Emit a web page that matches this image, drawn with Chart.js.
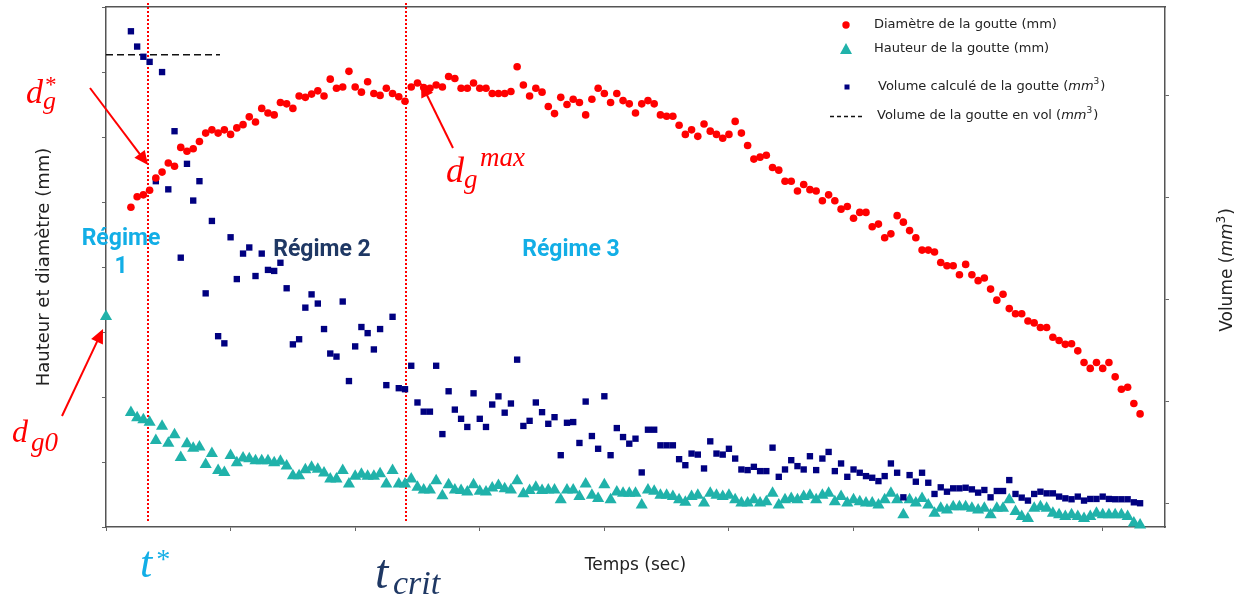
<!DOCTYPE html>
<html>
<head>
<meta charset="utf-8">
<script src="https://cdn.jsdelivr.net/npm/chart.js@4.4.1/dist/chart.umd.min.js"></script>
<style>
  html, body { margin: 0; padding: 0; background: #fff; }
</style>
</head>
<body>
<canvas id="myChart" width="1249" height="596"></canvas>
<script>
// temps (s) - t=0 : goutte au contact
var temps = [0, 4, 5, 6, 7, 8, 9, 10, 11, 12, 13, 14, 15, 16, 17, 18, 19, 20, 21, 22, 23, 24, 25, 26, 27, 28, 29, 30,
  31, 32, 33, 34, 35, 36, 37, 38, 39, 40, 41, 42, 43, 44, 45, 46, 47, 48, 49, 50, 51, 52, 53, 54, 55, 56, 57, 58, 59, 60,
  61, 62, 63, 64, 65, 66, 67, 68, 69, 70, 71, 72, 73, 74, 75, 76, 77, 78, 79, 80, 81, 82, 83, 84, 85, 86, 87, 88, 89, 90,
  91, 92, 93, 94, 95, 96, 97, 98, 99, 100, 101, 102, 103, 104, 105, 106, 107, 108, 109, 110, 111, 112, 113, 114, 115, 116,
  117, 118, 119, 120, 121, 122, 123, 124, 125, 126, 127, 128, 129, 130, 131, 132, 133, 134, 135, 136, 137, 138, 139, 140,
  141, 142, 143, 144, 145, 146, 147, 148, 149, 150, 151, 152, 153, 154, 155, 156, 157, 158, 159, 160, 161, 162, 163, 164,
  165, 166];

// diametre de la goutte (mm)
var diametre = [null,
  4.92, 5.08, 5.11, 5.18, 5.37, 5.46, 5.60, 5.55, 5.84, 5.78,
  5.82, 5.93, 6.06, 6.11, 6.06, 6.11, 6.04, 6.14, 6.19, 6.31,
  6.23, 6.44, 6.37, 6.34, 6.53, 6.51, 6.44, 6.63, 6.61, 6.66,
  6.71, 6.63, 6.89, 6.75, 6.77, 7.01, 6.77, 6.69, 6.85, 6.67,
  6.64, 6.75, 6.67, 6.62, 6.55, 6.77, 6.83, 6.76, 6.75, 6.80,
  6.77, 6.93, 6.90, 6.75, 6.75, 6.83, 6.75, 6.75, 6.67, 6.67,
  6.67, 6.70, 7.08, 6.80, 6.63, 6.75, 6.69, 6.47, 6.36, 6.61,
  6.50, 6.58, 6.53, 6.34, 6.58, 6.75, 6.67, 6.53, 6.67, 6.56,
  6.51, 6.37, 6.51, 6.56, 6.51, 6.34, 6.32, 6.32, 6.18, 6.04,
  6.11, 6.01, 6.20, 6.09, 6.04, 5.98, 6.04, 6.24, 6.06, 5.87,
  5.66, 5.69, 5.72, 5.53, 5.49, 5.32, 5.32, 5.17, 5.27, 5.19,
  5.17, 5.02, 5.11, 5.02, 4.89, 4.93, 4.75, 4.84, 4.84, 4.62,
  4.66, 4.45, 4.51, 4.79, 4.69, 4.56, 4.45, 4.26, 4.26, 4.23,
  4.07, 4.02, 4.02, 3.88, 4.04, 3.88, 3.79, 3.83, 3.66, 3.49,
  3.58, 3.36, 3.28, 3.28, 3.17, 3.14, 3.07, 3.07, 2.92, 2.87,
  2.81, 2.82, 2.71, 2.53, 2.44, 2.53, 2.44, 2.53, 2.31, 2.12,
  2.15, 1.90, 1.74];

// hauteur de la goutte (mm)
var hauteur = [3.24,
  1.76, 1.68, 1.65, 1.61, 1.33, 1.55, 1.29, 1.42, 1.07, 1.28,
  1.21, 1.23, 0.96, 1.13, 0.87, 0.84, 1.10, 0.99, 1.06, 1.05,
  1.02, 1.02, 1.02, 0.99, 1.01, 0.94, 0.79, 0.79, 0.88, 0.92,
  0.89, 0.83, 0.74, 0.74, 0.87, 0.66, 0.78, 0.81, 0.78, 0.78,
  0.82, 0.66, 0.87, 0.66, 0.66, 0.74, 0.61, 0.57, 0.57, 0.71,
  0.48, 0.65, 0.57, 0.56, 0.54, 0.65, 0.55, 0.54, 0.60, 0.64,
  0.59, 0.57, 0.71, 0.51, 0.56, 0.61, 0.56, 0.57, 0.57, 0.42,
  0.57, 0.57, 0.47, 0.66, 0.49, 0.44, 0.65, 0.42, 0.54, 0.52,
  0.52, 0.52, 0.34, 0.57, 0.55, 0.49, 0.49, 0.47, 0.42, 0.38,
  0.47, 0.49, 0.37, 0.52, 0.49, 0.47, 0.49, 0.42, 0.37, 0.37,
  0.42, 0.37, 0.39, 0.52, 0.34, 0.42, 0.44, 0.42, 0.47, 0.49,
  0.42, 0.49, 0.52, 0.39, 0.47, 0.37, 0.42, 0.39, 0.37, 0.37,
  0.34, 0.42, 0.52, 0.42, 0.19, 0.42, 0.37, 0.44, 0.34, 0.21,
  0.29, 0.26, 0.31, 0.31, 0.31, 0.29, 0.26, 0.29, 0.19, 0.29,
  0.29, 0.42, 0.24, 0.16, 0.13, 0.29, 0.31, 0.29, 0.21, 0.19,
  0.16, 0.19, 0.16, 0.13, 0.16, 0.21, 0.19, 0.19, 0.19, 0.19,
  0.16, 0.06, 0.03];

// volume calcule de la goutte (mm3)
var volume = [null,
  46.3, 44.8, 43.8, 43.3, 31.6, 42.3, 30.8, 36.5, 24.1, 33.3,
  29.7, 31.6, 20.6, 27.7, 16.4, 15.7, 26.1, 22.0, 24.5, 25.1,
  22.3, 24.5, 22.9, 22.8, 23.6, 21.1, 15.6, 16.1, 19.2, 20.5,
  19.6, 17.1, 14.7, 14.4, 19.8, 12.0, 15.4, 17.3, 16.7, 15.1,
  17.1, 11.6, 18.3, 11.3, 11.2, 13.5, 9.9, 9.0, 9.0, 13.5,
  6.8, 11.0, 9.2, 8.3, 7.5, 10.8, 8.3, 7.5, 9.7, 10.5,
  8.9, 9.8, 14.1, 7.6, 8.1, 9.9, 8.95, 7.81, 8.46, 4.73,
  7.91, 7.98, 5.93, 9.99, 6.61, 5.36, 10.51, 4.73, 7.39, 6.51,
  5.86, 6.35, 3.04, 7.23, 7.23, 5.70, 5.70, 5.70, 4.34, 3.75,
  4.89, 4.79, 3.43, 6.09, 4.89, 4.79, 5.36, 4.40, 3.33, 3.27,
  3.59, 3.17, 3.17, 5.47, 2.61, 3.33, 4.24, 3.66, 3.33, 4.63,
  3.27, 4.40, 5.05, 3.17, 3.92, 2.61, 3.33, 3.01, 2.68, 2.52,
  2.19, 2.68, 3.92, 3.01, 0.60, 2.78, 2.13, 3.01, 2.03, 0.93,
  1.58, 1.15, 1.48, 1.48, 1.54, 1.38, 1.06, 1.32, 0.60, 1.22,
  1.22, 2.29, 0.93, 0.57, 0.28, 0.93, 1.15, 0.99, 0.99, 0.67,
  0.50, 0.41, 0.67, 0.28, 0.44, 0.44, 0.67, 0.44, 0.41, 0.41,
  0.41, 0.11, 0.02];

// volume de la goutte en vol (mm3)
var tempsVol = [0, 18.3];
var volumeEnVol = [44.0, 44.0];

// reperes t* et t_crit
var reperesTemps = [6.8, 48.2];

// graduations (sans etiquettes)
var xTicks = [0, 20, 40, 60, 80, 100, 120, 140, 160];
var yTicks = [0, 1, 2, 3, 4, 5, 6, 7, 8];
var volTicks = [0, 10, 20, 30, 40];

var ROUGE = '#ff0000', TURQUOISE = '#20b2aa', MARINE = '#000080';
var CYAN = '#12aee6', BLEU_FONCE = '#1f3864';

function points(ys, xs) {
  var out = [];
  ys.forEach(function (v, k) { if (v !== null) out.push({x: xs[k], y: v}); });
  return out;
}

function fleche(ctx, x1, y1, x2, y2) {
  var a = Math.atan2(y2 - y1, x2 - x1), L = 14, W = 6.5;
  ctx.beginPath();
  ctx.moveTo(x1, y1);
  ctx.lineTo(x2 - (L - 2) * Math.cos(a), y2 - (L - 2) * Math.sin(a));
  ctx.stroke();
  ctx.beginPath();
  ctx.moveTo(x2, y2);
  ctx.lineTo(x2 - L * Math.cos(a) + W * Math.sin(a), y2 - L * Math.sin(a) - W * Math.cos(a));
  ctx.lineTo(x2 - L * Math.cos(a) - W * Math.sin(a), y2 - L * Math.sin(a) + W * Math.cos(a));
  ctx.closePath();
  ctx.fill();
}

function maths(ctx, m) {
  ctx.fillStyle = m.color;
  ctx.textAlign = 'left';
  ctx.textBaseline = 'alphabetic';
  ctx.font = 'italic ' + m.size + 'px "Liberation Serif"';
  ctx.fillText(m.base, m.x, m.y);
  if (m.sub) {
    ctx.font = 'italic ' + m.subSize + 'px "Liberation Serif"';
    ctx.fillText(m.sub, m.subX, m.subY);
  }
  if (m.sup) {
    ctx.font = 'italic ' + m.supSize + 'px "Liberation Serif"';
    ctx.fillText(m.sup, m.supX, m.supY);
  }
}

// texte avec "(mm3)" : mm en italique, 3 en exposant
function texteMm3(ctx, avant, x, y, taille, mesurer) {
  var f = taille + 'px "DejaVu Sans"';
  var fi = 'oblique ' + taille + 'px "DejaVu Sans"';
  var fe = Math.round(taille * 0.7) + 'px "DejaVu Sans"';
  var morceaux = [[avant + '(', f, 0], ['mm', fi, 0], ['3', fe, -taille * 0.38], [')', f, 0]];
  var w = 0;
  morceaux.forEach(function (p) { ctx.font = p[1]; w += ctx.measureText(p[0]).width + (p[0] === '3' ? 1 : 0); });
  if (mesurer) return w;
  var cx = x;
  morceaux.forEach(function (p) {
    ctx.font = p[1];
    ctx.fillText(p[0], cx, y + p[2]);
    cx += ctx.measureText(p[0]).width + (p[0] === '3' ? 1 : 0);
  });
  return w;
}

var decor = {
  id: 'decor',
  beforeDatasetsDraw: function (chart) {
    var ctx = chart.ctx, sx = chart.scales.x, area = chart.chartArea;
    ctx.save();
    ctx.strokeStyle = ROUGE;
    ctx.lineWidth = 2;
    ctx.setLineDash([2, 2]);
    reperesTemps.forEach(function (t) {
      var px = Math.round(sx.getPixelForValue(t));
      ctx.beginPath();
      ctx.moveTo(px, area.top - 4);
      ctx.lineTo(px, area.bottom - 6);
      ctx.stroke();
    });
    ctx.restore();
  },
  afterDraw: function (chart) {
    var ctx = chart.ctx;
    ctx.save();

    // legende
    ctx.fillStyle = ROUGE;
    ctx.beginPath(); ctx.arc(846, 25, 3.7, 0, Math.PI * 2); ctx.fill();
    ctx.fillStyle = TURQUOISE;
    ctx.beginPath(); ctx.moveTo(846, 43); ctx.lineTo(852, 54); ctx.lineTo(840, 54); ctx.closePath(); ctx.fill();
    ctx.fillStyle = MARINE;
    ctx.fillRect(844.5, 84.5, 5, 5);
    ctx.strokeStyle = '#111'; ctx.lineWidth = 1.3; ctx.setLineDash([4, 3]);
    ctx.beginPath(); ctx.moveTo(830, 116.5); ctx.lineTo(863, 116.5); ctx.stroke();
    ctx.setLineDash([]);

    ctx.fillStyle = '#222';
    ctx.textAlign = 'left';
    ctx.textBaseline = 'middle';
    ctx.font = '13px "DejaVu Sans"';
    ctx.fillText('Diamètre de la goutte (mm)', 874, 25);
    ctx.fillText('Hauteur de la goutte (mm)', 874, 49);
    texteMm3(ctx, 'Volume calculé de la goutte ', 878, 87, 13);
    texteMm3(ctx, 'Volume de la goutte en vol ', 877, 116, 13);

    // titre de l'axe de droite
    ctx.save();
    ctx.translate(1228, 270);
    ctx.rotate(-Math.PI / 2);
    ctx.fillStyle = '#222';
    var w = texteMm3(ctx, 'Volume ', 0, 0, 17, true);
    texteMm3(ctx, 'Volume ', -w / 2, 0, 17);
    ctx.restore();

    // regimes
    ctx.textAlign = 'center';
    ctx.textBaseline = 'alphabetic';
    ctx.font = 'bold 23px Roboto';
    ctx.fillStyle = CYAN;
    ctx.fillText('Régime', 121, 245);
    ctx.fillText('1', 121, 273);
    ctx.fillText('Régime 3', 571, 256);
    ctx.fillStyle = BLEU_FONCE;
    ctx.fillText('Régime 2', 322, 256);

    // fleches
    ctx.strokeStyle = ROUGE;
    ctx.fillStyle = ROUGE;
    ctx.lineWidth = 2;
    fleche(ctx, 90, 88, 148, 165);
    fleche(ctx, 453, 148, 421, 83);
    fleche(ctx, 62, 416, 103, 329);

    // notations
    maths(ctx, {base: 'd', x: 26, y: 103, size: 34, color: ROUGE,
      sub: 'g', subX: 43, subY: 109, subSize: 26, sup: '*', supX: 44, supY: 92, supSize: 23});
    maths(ctx, {base: 'd', x: 446, y: 182, size: 36, color: ROUGE,
      sub: 'g', subX: 464, subY: 188, subSize: 27, sup: 'max', supX: 480, supY: 166, supSize: 27});
    maths(ctx, {base: 'd', x: 12, y: 442, size: 32, color: ROUGE,
      sub: 'g0', subX: 31, subY: 451, subSize: 27});
    maths(ctx, {base: 't', x: 140, y: 577, size: 44, color: CYAN,
      sup: '*', supX: 155, supY: 568, supSize: 28});
    maths(ctx, {base: 't', x: 375, y: 588, size: 48, color: BLEU_FONCE,
      sub: 'crit', subX: 393, subY: 594, subSize: 34});

    ctx.restore();
  }
};

var ctx = document.getElementById('myChart');
var cadre = {color: '#555', width: 1.5};
var traits = {drawOnChartArea: false, drawTicks: true, tickLength: 4, color: '#666'};

new Chart(ctx, {
  type: 'scatter',
  data: {
    datasets: [{
      label: 'Diamètre de la goutte (mm)',
      data: points(diametre, temps),
      yAxisID: 'y',
      pointStyle: 'circle',
      pointRadius: 3.8,
      pointBorderWidth: 0,
      backgroundColor: ROUGE,
      borderColor: ROUGE,
      clip: false
    }, {
      label: 'Volume calculé de la goutte (mm3)',
      data: points(volume, temps),
      yAxisID: 'yVol',
      pointStyle: 'rect',
      pointRadius: 4.5,
      pointBorderWidth: 0,
      backgroundColor: MARINE,
      borderColor: MARINE,
      clip: false
    }, {
      label: 'Hauteur de la goutte (mm)',
      data: points(hauteur, temps),
      yAxisID: 'y',
      pointStyle: 'triangle',
      pointRadius: 7,
      pointBorderWidth: 0,
      backgroundColor: TURQUOISE,
      borderColor: TURQUOISE,
      clip: false
    }, {
      type: 'line',
      label: 'Volume de la goutte en vol (mm3)',
      data: points(volumeEnVol, tempsVol),
      yAxisID: 'yVol',
      borderColor: '#111',
      borderWidth: 1.5,
      borderDash: [7, 4],
      pointRadius: 0,
      fill: false,
      clip: false
    }]
  },
  options: {
    responsive: false,
    animation: false,
    events: [],
    layout: {padding: 0},
    plugins: {legend: {display: false}, tooltip: {enabled: false}},
    scales: {
      x: {
        type: 'linear', position: 'bottom', min: 0, max: 170,
        afterBuildTicks: function (s) { s.ticks = xTicks.map(function (v) { return {value: v}; }); },
        afterFit: function (s) { s.height = 69; },
        ticks: {display: false},
        grid: traits,
        border: cadre,
        title: {display: true, text: 'Temps (sec)', color: '#222',
          font: {family: 'DejaVu Sans', size: 17}, padding: {top: 0, bottom: 20}}
      },
      xHaut: {
        type: 'linear', position: 'top', min: 0, max: 170,
        afterFit: function (s) { s.height = 4; },
        ticks: {display: false},
        grid: {display: false},
        border: cadre
      },
      y: {
        type: 'linear', position: 'left', min: 0, max: 8,
        afterBuildTicks: function (s) { s.ticks = yTicks.map(function (v) { return {value: v}; }); },
        afterFit: function (s) { s.width = 106; },
        ticks: {display: false},
        grid: traits,
        border: cadre,
        title: {display: true, text: 'Hauteur et diamètre (mm)', color: '#222',
          font: {family: 'DejaVu Sans', size: 18}, padding: {top: 34, bottom: 0}}
      },
      yVol: {
        type: 'linear', position: 'right', min: -2.31, max: 48.68,
        afterBuildTicks: function (s) { s.ticks = volTicks.map(function (v) { return {value: v}; }); },
        afterFit: function (s) { s.width = 84; },
        ticks: {display: false},
        grid: traits,
        border: cadre
      }
    }
  },
  plugins: [decor]
});
</script>
</body>
</html>
